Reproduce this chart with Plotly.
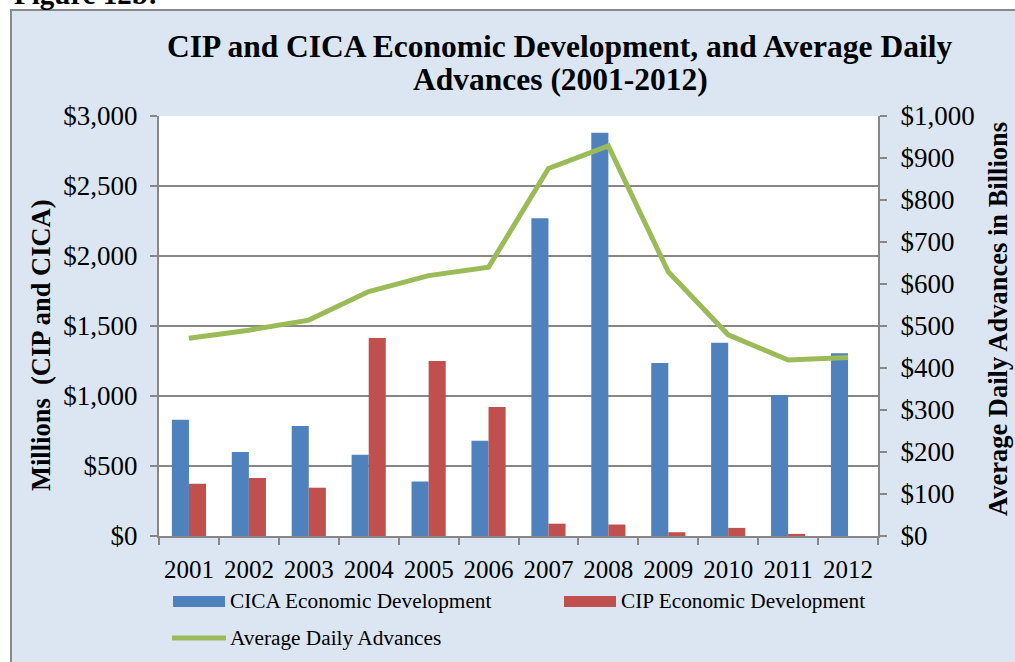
import plotly.graph_objects as go

# Series data, 2001-2012
years = ["2001", "2002", "2003", "2004", "2005", "2006",
         "2007", "2008", "2009", "2010", "2011", "2012"]
cica_millions = [830, 600, 785, 580, 390, 680, 2270, 2880, 1235, 1380, 1005, 1305]
cip_millions = [373, 415, 345, 1415, 1250, 922, 88, 82, 27, 58, 15, 0]
avg_daily_advances_billions = [471, 490, 514, 582, 620, 640, 875, 929, 629, 479, 419, 425]

left_ticks = [0, 500, 1000, 1500, 2000, 2500, 3000]
right_ticks = [0, 100, 200, 300, 400, 500, 600, 700, 800, 900, 1000]

names = ["CICA Economic Development", "CIP Economic Development", "Average Daily Advances"]
title_lines = ["CIP and CICA Economic Development, and Average Daily",
               "Advances (2001-2012)"]
left_title = "Millions  (CIP and CICA)"
right_title = "Average Daily Advances in Billions"

BLUE = "#4f81bd"
RED = "#c0504d"
GREEN = "#9bbb59"
GRID = "#878787"
BG = "#dce6f2"
FONT = "Liberation Serif"

W, H = 1015, 662
L, R, T, B = 159, 137, 116, 126
PW, PH = W - L - R, H - T - B


def px_x(px):
    return (px - L) / PW


def px_y(py):
    return (H - B - py) / PH


fig = go.Figure()
fig.add_trace(go.Bar(x=years, y=cica_millions, name=names[0],
                     marker=dict(color=BLUE, line=dict(width=0)), showlegend=False))
fig.add_trace(go.Bar(x=years, y=cip_millions, name=names[1],
                     marker=dict(color=RED, line=dict(width=0)), showlegend=False))
fig.add_trace(go.Scatter(x=years, y=avg_daily_advances_billions, name=names[2],
                         mode="lines", line=dict(color=GREEN, width=5),
                         yaxis="y2", showlegend=False))

shapes = [
    # outer chart panel
    dict(type="rect", xref="paper", yref="paper", layer="below",
         x0=px_x(11), x1=px_x(1022), y0=px_y(670), y1=px_y(10),
         fillcolor=BG, line=dict(color="#8a8a8a", width=2)),
    # white plotting area
    dict(type="rect", xref="paper", yref="paper", layer="below",
         x0=0, x1=1, y0=0, y1=1, fillcolor="white", line=dict(width=0)),
    # legend keys
    dict(type="rect", xref="paper", yref="paper",
         x0=px_x(173), x1=px_x(225), y0=px_y(607), y1=px_y(596),
         fillcolor=BLUE, line=dict(width=0)),
    dict(type="rect", xref="paper", yref="paper",
         x0=px_x(564), x1=px_x(616), y0=px_y(607), y1=px_y(596),
         fillcolor=RED, line=dict(width=0)),
    dict(type="line", xref="paper", yref="paper",
         x0=px_x(172), x1=px_x(226), y0=px_y(638), y1=px_y(638),
         line=dict(color=GREEN, width=5)),
]

annotations = [
    dict(text="<b>Figure 12b:</b>", xref="paper", yref="paper",
         x=px_x(12), y=px_y(-6), xanchor="left", yanchor="middle",
         showarrow=False, font=dict(family=FONT, size=29, color="black")),
    dict(text="<b>" + title_lines[0] + "</b>", xref="paper", yref="paper",
         x=px_x(559), y=px_y(47), xanchor="center", yanchor="middle",
         showarrow=False, font=dict(family=FONT, size=31.5, color="black")),
    dict(text="<b>" + title_lines[1] + "</b>", xref="paper", yref="paper",
         x=px_x(560), y=px_y(79), xanchor="center", yanchor="middle",
         showarrow=False, font=dict(family=FONT, size=31.5, color="black")),
    dict(text="<b>" + left_title.replace("  ", "&nbsp; ") + "</b>", xref="paper", yref="paper",
         x=px_x(41), y=px_y(345), xanchor="center", yanchor="middle", textangle=-90,
         showarrow=False, font=dict(family=FONT, size=26.5, color="black")),
    dict(text="<b>" + right_title + "</b>", xref="paper", yref="paper",
         x=px_x(998), y=px_y(319), xanchor="center", yanchor="middle", textangle=-90,
         showarrow=False, font=dict(family=FONT, size=26.5, color="black")),
    dict(text=names[0], xref="paper", yref="paper",
         x=px_x(228), y=px_y(601), xanchor="left", yanchor="middle",
         showarrow=False, font=dict(family=FONT, size=21.3, color="black")),
    dict(text=names[1], xref="paper", yref="paper",
         x=px_x(619), y=px_y(601), xanchor="left", yanchor="middle",
         showarrow=False, font=dict(family=FONT, size=21.3, color="black")),
    dict(text=names[2], xref="paper", yref="paper",
         x=px_x(228), y=px_y(638), xanchor="left", yanchor="middle",
         showarrow=False, font=dict(family=FONT, size=21.3, color="black")),
]

fig.update_layout(
    width=W, height=H,
    margin=dict(l=L, r=R, t=T, b=B, pad=0),
    paper_bgcolor="white",
    plot_bgcolor="rgba(0,0,0,0)",
    barmode="group", bargap=0.43, bargroupgap=0,
    font=dict(family=FONT, color="black"),
    showlegend=False,
    shapes=shapes,
    annotations=annotations,
    xaxis=dict(type="category", tickson="boundaries", ticks="outside", ticklen=7,
               tickcolor=GRID, tickwidth=2, showline=True, linecolor=GRID, linewidth=2,
               showgrid=False, tickangle=0, ticklabelstandoff=10,
               tickfont=dict(family=FONT, size=25, color="black"),
               fixedrange=True),
    yaxis=dict(range=[0, 3000], tickvals=left_ticks,
               ticktext=["${:,}".format(v) for v in left_ticks],
               ticks="outside", ticklen=7, tickcolor=GRID, tickwidth=2,
               showline=True, linecolor=GRID, linewidth=2, ticklabelstandoff=7,
               showgrid=True, gridcolor=GRID, gridwidth=2, zeroline=False,
               tickfont=dict(family=FONT, size=27, color="black")),
    yaxis2=dict(range=[0, 1000], tickvals=right_ticks,
                ticktext=["${:,}".format(v) for v in right_ticks],
                overlaying="y", side="right",
                ticks="outside", ticklen=7, tickcolor=GRID, tickwidth=2,
                showline=True, linecolor=GRID, linewidth=2, ticklabelstandoff=8,
                showgrid=False, zeroline=False,
                tickfont=dict(family=FONT, size=27, color="black")),
)

fig.write_html("out.html")
